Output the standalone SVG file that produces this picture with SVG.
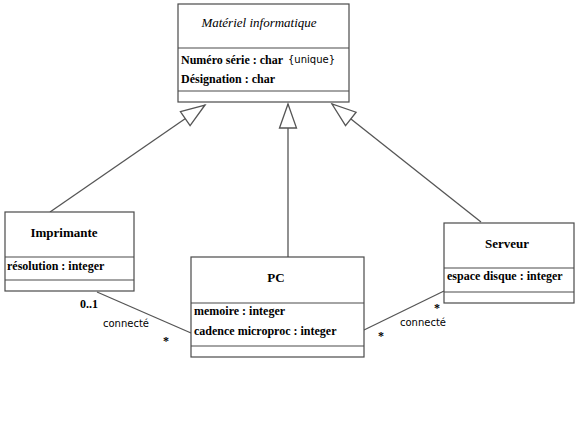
<svg xmlns="http://www.w3.org/2000/svg" width="579" height="442" viewBox="0 0 579 442">
<style>
.box{fill:#fff;stroke:#4a4a4a;stroke-width:1.2}
.sep{stroke:#4a4a4a;stroke-width:1.2}
.ln{stroke:#555;stroke-width:1.3;fill:none}
.title{font-family:"Liberation Serif","Times New Roman",Times,"DejaVu Serif",serif;font-weight:bold;font-size:13px;fill:#000;text-anchor:middle}
.ital{font-family:"Liberation Serif","Times New Roman",Times,"DejaVu Serif",serif;font-style:italic;font-size:13px;fill:#000;text-anchor:middle}
.attr{font-family:"Liberation Serif","Times New Roman",Times,"DejaVu Serif",serif;font-weight:bold;font-size:12px;fill:#000}
.sans{font-family:"DejaVu Sans",sans-serif;font-size:10px;fill:#000}
.mult{font-family:"Liberation Serif","Times New Roman",Times,"DejaVu Serif",serif;font-weight:bold;font-size:12px;fill:#000}
</style>
<defs>
<marker id="gen" markerUnits="userSpaceOnUse" markerWidth="26" markerHeight="19" refX="24.5" refY="9" orient="auto" overflow="visible">
<path d="M0.5,0.5 L24.5,9 L0.5,17.5 Z" fill="#fff" stroke="#555" stroke-width="1.3"/>
</marker>
</defs>
<g id="connectors">
<line class="ln" x1="50" y1="212" x2="205" y2="105" marker-end="url(#gen)"/>
<line class="ln" x1="288" y1="257" x2="288" y2="104" marker-end="url(#gen)"/>
<line class="ln" x1="481" y1="222" x2="332" y2="104" marker-end="url(#gen)"/>
<line class="ln" x1="97" y1="292" x2="191" y2="333"/>
<line class="ln" x1="364" y1="330" x2="444" y2="291"/>
<text class="mult" x="80" y="308">0..1</text>
<text class="sans" x="103" y="327">connecté</text>
<text class="mult" x="163" y="345">*</text>
<text class="mult" x="434" y="312">*</text>
<text class="sans" x="400" y="326">connecté</text>
<text class="mult" x="378" y="340">*</text>
</g>
<g id="materiel">
<rect class="box" x="178" y="4" width="171" height="98"/>
<line class="sep" x1="178" y1="48" x2="349" y2="48"/>
<line class="sep" x1="178" y1="91" x2="349" y2="91"/>
<text class="ital" x="259" y="27">Matériel informatique</text>
<text class="attr" x="181" y="64">Numéro série : char</text>
<text class="sans" x="288" y="63">{unique}</text>
<text class="attr" x="181" y="83">Désignation : char</text>
</g>
<g id="imprimante">
<rect class="box" x="5" y="212" width="129" height="79"/>
<line class="sep" x1="5" y1="257" x2="134" y2="257"/>
<line class="sep" x1="5" y1="280" x2="134" y2="280"/>
<text class="title" x="64" y="237">Imprimante</text>
<text class="attr" x="7" y="270">résolution : integer</text>
</g>
<g id="pc">
<rect class="box" x="191" y="257" width="173" height="100"/>
<line class="sep" x1="191" y1="303" x2="364" y2="303"/>
<line class="sep" x1="191" y1="346" x2="364" y2="346"/>
<text class="title" x="276" y="282">PC</text>
<text class="attr" x="194" y="315">memoire : integer</text>
<text class="attr" x="194" y="335">cadence microproc : integer</text>
</g>
<g id="serveur">
<rect class="box" x="444" y="223" width="130" height="80"/>
<line class="sep" x1="444" y1="268" x2="574" y2="268"/>
<line class="sep" x1="444" y1="292" x2="574" y2="292"/>
<text class="title" x="507" y="248">Serveur</text>
<text class="attr" x="447" y="280">espace disque : integer</text>
</g>
</svg>
